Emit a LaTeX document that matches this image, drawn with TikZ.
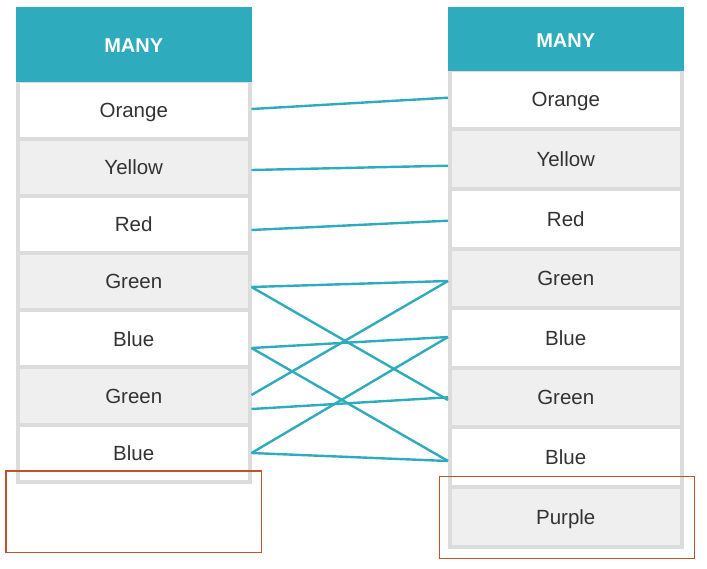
\documentclass[tikz,border=0pt]{standalone}
\usepackage{fontspec}
\setmainfont{Liberation Sans}
\definecolor{teal1}{HTML}{2EABBD}
\definecolor{frame}{HTML}{DCDCDC}
\definecolor{cellgray}{HTML}{EFEFEF}
\definecolor{txt}{HTML}{333333}
\definecolor{boxor}{HTML}{C0532A}
\tikzset{
  cellL/.style={draw=frame, line width=4pt, minimum width=231.5pt, minimum height=57.2pt, inner sep=0pt, text=txt, font=\fontsize{20.5}{24}\selectfont, text height=14.7pt, text depth=0pt},
  cellR/.style={cellL, minimum height=59.6pt},
  white cell/.style={fill=white},
  gray cell/.style={fill=cellgray},
  head/.style={fill=teal1, draw=none, inner sep=0pt, text=white, font=\fontsize{20}{24}\selectfont\bfseries, text height=14.4pt, text depth=0pt},
  link/.style={draw=teal1, line width=2.4pt},
  mark box/.style={draw=boxor, line width=1.1pt}
}
\begin{document}
\begin{tikzpicture}[x=1pt,y=-1pt]
\useasboundingbox (0,0) rectangle (707,568);
% left table
\node[cellL, white cell] (L1) at (133.75,109.9) {Orange};
\node[cellL, gray cell]  (L2) at (133.75,167.1) {Yellow};
\node[cellL, white cell] (L3) at (133.75,224.3) {Red};
\node[cellL, gray cell]  (L4) at (133.75,281.5) {Green};
\node[cellL, white cell] (L5) at (133.75,338.7) {Blue};
\node[cellL, gray cell]  (L6) at (133.75,395.9) {Green};
\node[cellL, white cell] (L7) at (133.75,453.1) {Blue};
\node[head, minimum width=235.5pt, minimum height=74.5pt] (LH) at (133.75,44.25) {};
\node[head, fill=none] (LHt) at (133.75,45.6) {MANY};
% right table
\node[cellR, white cell] (R1) at (565.75,99.5) {Orange};
\node[cellR, gray cell]  (R2) at (565.75,159.1) {Yellow};
\node[cellR, white cell] (R3) at (565.75,218.7) {Red};
\node[cellR, gray cell]  (R4) at (565.75,278.3) {Green};
\node[cellR, white cell] (R5) at (565.75,337.9) {Blue};
\node[cellR, gray cell]  (R6) at (565.75,397.5) {Green};
\node[cellR, white cell] (R7) at (565.75,457.1) {Blue};
\node[cellR, gray cell]  (R8) at (565.75,516.7) {Purple};
\node[head, minimum width=235.5pt, minimum height=64pt] (RH) at (565.75,39) {};
\node[head, fill=none] (RHt) at (565.75,40.2) {MANY};
% connectors
\draw[link] ([yshift=0.9pt]L1.east) -- ([yshift=1.8pt]R1.west);
\draw[link] ([yshift=-2.9pt]L2.east) -- ([yshift=-6.6pt]R2.west);
\draw[link] ([yshift=-5.7pt]L3.east) -- ([yshift=-2pt]R3.west);
\draw[link] ([yshift=-5.5pt]L4.east) -- ([yshift=-2.7pt]R4.west);
\draw[link] ([yshift=-5.5pt]L4.east) -- ([yshift=-2.5pt]R6.west);
\draw[link] ([yshift=-9.3pt]L5.east) -- ([yshift=0.9pt]R5.west);
\draw[link] ([yshift=-9.3pt]L5.east) -- ([yshift=-3.9pt]R7.west);
\draw[link] ([yshift=0.9pt]L6.east) -- ([yshift=-2.7pt]R4.west);
\draw[link] ([yshift=-13.1pt]L6.east) -- ([yshift=0.2pt]R6.west);
\draw[link] ([yshift=0.1pt]L7.east) -- ([yshift=0.9pt]R5.west);
\draw[link] ([yshift=0.1pt]L7.east) -- ([yshift=-3.9pt]R7.west);
% highlight boxes
\draw[mark box] (6,471) rectangle (261.5,552.3);
\draw[mark box] (439.3,476.7) rectangle (694.5,558.5);
\end{tikzpicture}
\end{document}
